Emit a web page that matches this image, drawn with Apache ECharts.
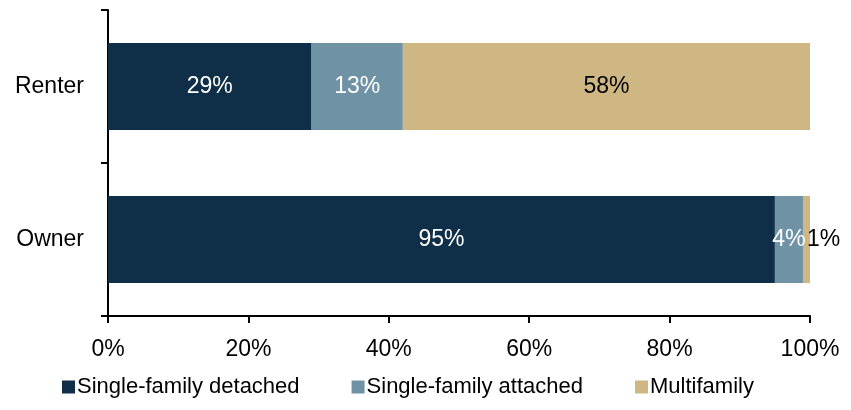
<!DOCTYPE html>
<html>
<head>
<meta charset="utf-8">
<script src="https://cdn.jsdelivr.net/npm/echarts@6/dist/echarts.min.js"></script>
<style>
  html, body { margin: 0; padding: 0; background: #ffffff; }
  #chart { width: 851px; height: 410px; }
</style>
</head>
<body>
<div id="chart"></div>
<script>
// Tenure groups, top to bottom
const categories = ['Renter', 'Owner'];
// Share of households by structure type (%)
const singleFamilyDetached = [29, 95];
const singleFamilyAttached = [13, 4];
const multifamily = [58, 1];
const xTickValues = [0, 20, 40, 60, 80, 100];

const FONT = '"Liberation Sans", Arial, sans-serif';
const COLORS = ['#0F2F48', '#6F93A5', '#CFB784'];

const chart = echarts.init(document.getElementById('chart'));

function segment(name, values, color, labelColor) {
  return {
    name: name,
    type: 'bar',
    stack: 'total',
    barCategoryGap: '43%',
    itemStyle: { color: color },
    label: {
      show: true,
      position: 'inside',
      color: labelColor,
      fontFamily: FONT,
      fontSize: 23,
      formatter: p => p.value + '%'
    },
    data: values.map(v => ({ value: v }))
  };
}

const mfData = segment('Multifamily', multifamily, COLORS[2], '#000000');
// the tiny owner sliver gets its label just past the bar start
mfData.data[1].label = { position: 'insideLeft', distance: 4 };

chart.setOption({
  animation: false,
  textStyle: { fontFamily: FONT },
  grid: { left: 108, right: 41, top: 10, bottom: 94, containLabel: false },
  legend: {
    top: 371,
    left: 57,
    itemWidth: 13,
    itemHeight: 13,
    itemGap: 52,
    icon: 'rect',
    textStyle: { fontFamily: FONT, fontSize: 22, color: '#000', padding: [0, 0, 0, -3] },
    data: ['Single-family detached', 'Single-family attached', 'Multifamily']
  },
  xAxis: {
    type: 'value',
    min: 0,
    max: 100,
    interval: 20,
    axisLine: { show: true, lineStyle: { color: '#000', width: 2 } },
    axisTick: { show: true, length: 7, lineStyle: { color: '#000', width: 2 } },
    splitLine: { show: false },
    axisLabel: {
      color: '#000',
      fontSize: 23,
      fontFamily: FONT,
      margin: 22,
      formatter: v => (xTickValues.includes(v) ? v + '%' : '')
    }
  },
  yAxis: {
    type: 'category',
    inverse: true,
    data: categories,
    axisLine: { show: true, lineStyle: { color: '#000', width: 2 } },
    axisTick: { show: true, length: 7, lineStyle: { color: '#000', width: 2 } },
    axisLabel: { color: '#000', fontSize: 23, fontFamily: FONT, margin: 24 }
  },
  series: [
    segment('Single-family detached', singleFamilyDetached, COLORS[0], '#ffffff'),
    segment('Single-family attached', singleFamilyAttached, COLORS[1], '#ffffff'),
    mfData
  ]
});
</script>
</body>
</html>
